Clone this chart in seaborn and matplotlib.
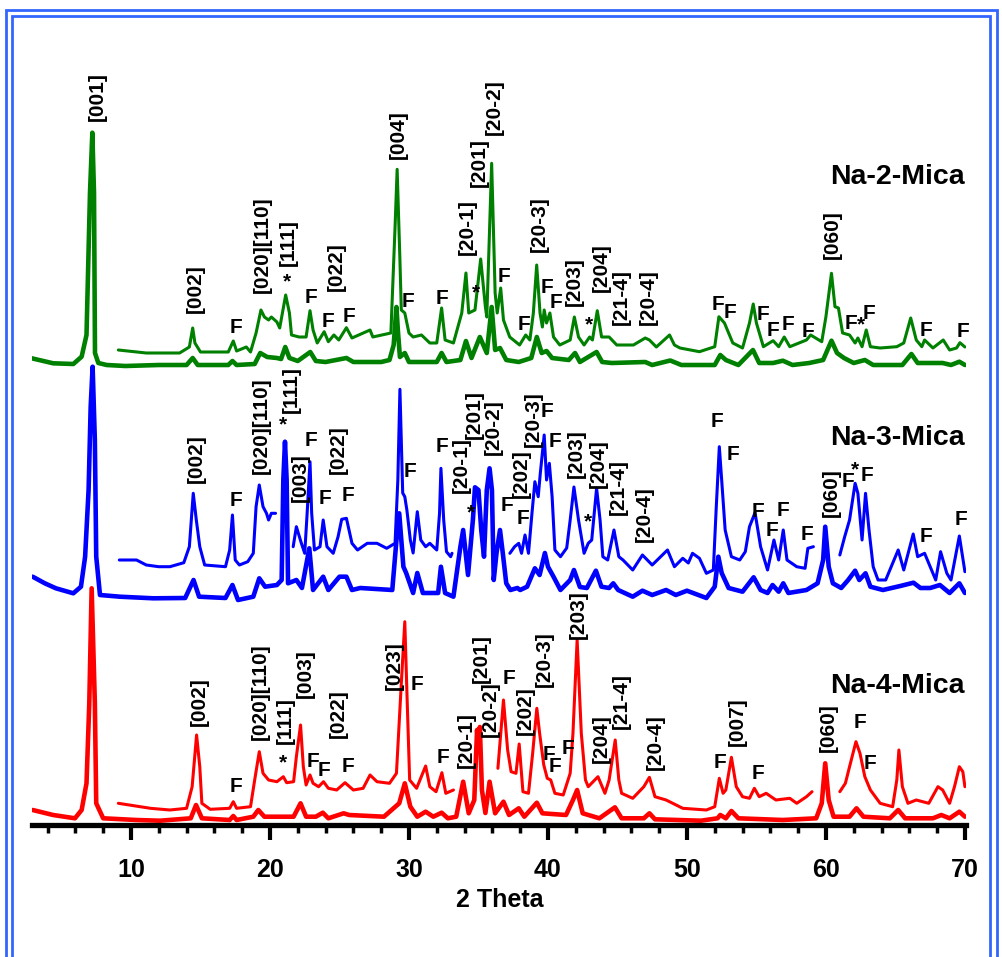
import numpy as np
import pandas as pd
import matplotlib
matplotlib.use("Agg")
import matplotlib.pyplot as plt
import seaborn as sns
from matplotlib.patches import Rectangle
from matplotlib.ticker import MultipleLocator

sns.set_theme(style="white")
plt.rcParams["font.family"] = ["Liberation Sans", "DejaVu Sans"]
plt.rcParams["font.weight"] = "bold"
plt.rcParams["text.color"] = "black"
plt.rcParams["axes.labelcolor"] = "black"
plt.rcParams["xtick.color"] = "black"

# ---------------- data (2 theta, intensity a.u. relative to each trace baseline) ----------------
na2_full_tt = [2.86,4.4,5.85,6.45,6.8,7.05,7.22,7.34,7.41,7.65,8.25,9.6,12.0,14.0,14.44,14.8,17.0,17.3,17.6,18.9,
               19.3,19.8,20.5,20.8,21.1,21.4,22.0,22.9,23.3,24.0,25.5,26.0,28.0,28.6,28.9,29.1,29.2,29.35,29.7,30.0,
               32.0,32.35,32.7,33.7,34.1,34.5,35.1,35.6,35.95,36.2,36.55,37.0,37.9,38.8,39.2,39.55,39.9,40.3,41.5,41.95,
               42.3,43.5,43.9,44.6,47.0,47.5,48.8,49.6,52.0,52.4,52.8,53.7,54.75,55.2,56.2,56.9,57.6,58.8,59.8,60.4,
               60.8,61.3,62.0,62.8,63.4,65.5,66.15,66.6,68.4,69.0,69.6,70.0]
na2_full_I = [6.7,1.7,1.0,8.3,30,172,232.3,172,12,2,0,-1,0,0,7,0,0,4,0,1,
              12,8,7,6,18,7,4,13,4,3,7,3,3,5,20,58,35,8,12,3,
              3,12,3,5,24,7,28,12,58,15,17,5,3,7,28,12,14,7,5,12,
              3,13,3,2,3,0,4.5,0,0,10,5,0,15,2,2,4.3,0,2,5,24.3,
              12,7,2,5,0,0,11,2,2,0,3.3,0]

na2_zoom_tt = [9.09,11.1,13.5,14.2,14.44,14.6,15.0,17.0,17.36,17.6,18.3,18.6,19.0,19.35,19.6,19.9,20.1,20.5,20.7,21.13,
               21.4,21.55,22.1,22.6,22.88,23.1,23.4,23.9,24.2,24.6,24.95,25.5,25.9,27.2,27.4,28.7,29.0,29.15,29.35,29.45,
               29.7,30.0,30.3,30.9,31.5,32.0,32.35,32.6,33.2,33.8,34.1,34.3,34.75,35.16,35.5,35.6,35.95,36.2,36.35,36.6,
               36.8,37.25,37.96,38.4,38.7,38.95,39.19,39.43,39.6,39.73,39.9,40.14,40.4,40.85,41.6,41.9,42.2,42.6,43.0,43.2,
               43.55,43.86,44.4,44.95,46.15,47.0,47.3,47.8,48.75,49.1,49.5,50.9,52.0,52.3,52.7,53.3,54.0,54.5,54.77,55.0,
               55.5,56.2,56.6,57.0,57.4,58.6,58.9,59.7,60.0,60.4,60.65,60.9,61.2,61.7,62.1,62.3,62.6,62.9,63.2,63.9,
               65.1,65.6,66.1,66.5,66.9,67.1,67.7,68.44,68.9,69.4,69.64,70.0]
na2_zoom_I = [2,-1,-1,5,24,9,0,0,11,1,5,0,19,42,35,32,35,30,24,57,
              39,17,15,15,41.3,22,9,20.3,10.3,17,12,24.3,14,22,15,19,125,182.7,92,42,
              39,19,15,17,9,9,44,12,9,39,79,39,42,93,45,35,188.7,59,39,64,
              32,15,7,17,12,39,87,39,25,42,29,39,15,7,12,35,15,7,15,12,
              41.3,15,15,7,7,14,12,5,17,7,4,0.3,5.3,35.3,29,9,4,29,48,29,
              5.3,11.3,5.3,15,5.3,12,17,10.3,35.3,78.7,45.3,44,19,17,9,14,5.3,22,5.3,4,
              5.3,9,34,12,5.3,12,4,12,2,4,9.3,5]

na3_full_tt = [2.93,3.8,4.6,5.85,6.4,6.7,6.95,7.1,7.24,7.4,7.5,7.77,9.2,11.6,13.9,14.5,14.9,16.8,17.3,17.7,
               18.8,19.23,19.65,20.5,20.84,20.96,21.08,21.2,21.3,21.9,22.3,22.83,23.1,23.83,24.2,25.0,25.5,25.9,26.5,28.8,
               29.1,29.3,29.6,29.8,30.3,30.6,31.0,32.1,32.3,32.6,33.2,33.7,33.9,34.25,34.6,34.75,35.0,35.2,35.4,35.6,
               35.8,35.97,36.1,36.3,36.55,36.75,37.0,37.3,37.8,38.0,38.5,39.06,39.4,39.78,40.0,40.4,40.9,41.6,41.87,42.3,
               42.8,43.45,43.85,44.4,44.7,45.05,46.1,46.8,47.5,48.5,49.2,50.0,51.4,52.0,52.26,52.5,53.0,54.0,54.8,55.3,
               55.8,56.16,56.6,56.93,57.3,58.6,59.4,59.8,59.95,60.2,60.5,61.1,61.6,62.1,62.4,62.85,63.2,64.1,65.35,66.3,
               66.8,67.5,68.2,68.9,69.6,70.0]
na3_full_I = [20.3,13.7,8.7,3.7,10.3,40.3,107,190.3,230.3,157,40.3,2,0.3,-1.3,-1,17,0.3,-1,12,-3,
              0.3,18.7,10.3,12,17,117,155.3,117,13.7,17,9,48.7,7,20.3,7,20.3,20.3,7,9,7,
              57,83.7,30.3,24,4,24,4,4,30.3,4,0.3,50.3,67,22,77,109.7,107,67,40.3,107,
              128.7,107,17,44,67,44,13.7,7,9,7,10.3,28.7,22,44,30.3,20.3,7,17,27,10,
              9,26.3,10.3,9,13.7,7,0.3,6.3,2,7,2,6.3,-1,10.3,40.3,24,9,5.3,19.7,7,
              4,12,5.3,13.7,4,7,13.7,37,70.3,30.3,13.7,9,17,26.3,17,23.7,10.3,7,11,14.3,
              9,9,12,4,13.7,4]

# magnified scan; NaN marks a break in the recorded curve
na3_zoom_tt = [9.16,10.4,11.1,12.0,12.8,13.8,14.2,14.48,14.7,14.95,15.3,16.8,17.1,17.3,17.5,17.8,18.4,18.8,19.0,19.23,
               19.5,19.75,19.9,20.1,20.4, np.nan,
               21.67,21.9,22.26,22.5,22.66,22.88,23.0,23.2,23.6,23.83,24.1,24.55,24.9,25.16,25.5,25.9,26.3,27.0,27.7,28.4,
               29.0,29.2,29.35,29.55,29.7,29.85,30.1,30.3,30.6,30.85,31.2,31.5,32.0,32.2,32.3,32.5,32.7,33.0,33.1, np.nan,
               37.26,37.6,37.9,38.1,38.35,38.6,38.85,39.06,39.3,39.45,39.73,39.9,40.1,40.3,40.5,40.9,41.35,41.6,41.87,42.2,
               42.6,42.9,43.15,43.5,43.75,43.95,44.3,44.75,45.1,45.4,46.1,46.8,47.5,48.6,49.1,49.7,50.1,50.4,50.9,51.4,
               51.9,52.1,52.33,52.5,52.75,53.2,53.8,54.2,54.5,54.9,55.3,55.8,56.26,56.6,56.93,57.2,57.9,58.5,58.7,59.1, np.nan,
               61.0,61.35,61.7,62.1,62.3,62.6,62.85,63.1,63.4,63.75,64.3,64.8,65.2,65.6,66.28,66.6,67.1,67.5,67.9,68.25,
               68.7,69.0,69.6,70.0]
na3_zoom_I = [6,6,1,-0.7,-0.7,3.3,19.3,72.7,46,19.3,1,-0.7,16,51,6,1,4.3,12.7,59.3,81,
              59.3,52.7,46,52.7,52.7, np.nan,
              19.3,39.3,22.7,12.7,49.3,104.3,53,16,19.3,46,19.3,12.7,29.3,46.7,47.7,22.7,16,22.7,22.7,17.7,
              22.7,86,176.7,73,69.3,56,26,13,54.3,26,19.3,22.7,16,52.7,97.7,46,14.3,9.3,12.7, np.nan,
              12.7,19.3,22.7,12.7,31,12.7,52.7,84.3,69.3,92.7,131,86,102.7,69.3,16,9.3,18,46,79,46,
              12.7,22.7,26,77.7,46,9.3,6,36,9.3,6,-4,11,1,16,-0.7,7.7,3,12.7,7.7,-7.3,
              -4,56,119.3,86,36,9.3,6,14.3,39.3,53.3,19.3,-4,26,6,36,6,-0.7,-2.3,17.7,19.3, np.nan,
              11,29.3,46,82.7,72.7,26,72.7,36,-0.7,-14,-14,2.7,16,-4,32,9.3,12.7,-0.7,-14,14.3,
              -7.3,-14,30,-5.7]

na4_full_tt = [2.93,4.4,5.97,6.45,6.8,7.0,7.17,7.4,7.5,8.0,10.4,12.1,14.3,14.68,15.1,17.1,17.36,17.6,18.8,19.16,
               19.6,21.7,22.2,22.6,23.3,23.8,24.2,25.3,25.7,28.2,29.3,29.7,30.1,30.6,31.2,31.75,32.35,32.8,33.4,33.9,
               34.3,34.7,34.9,35.0,35.1,35.25,35.5,35.8,36.2,36.8,37.2,37.9,38.3,39.2,39.6,41.3,41.8,42.1,42.5,43.7,
               44.82,45.3,46.9,47.3,47.7,51.0,52.2,52.4,52.8,53.2,53.7,56.9,59.3,59.7,59.95,60.2,60.55,61.7,62.2,62.7,
               64.6,65.2,65.7,67.7,68.3,68.9,69.6,70.0]
na4_full_I = [10,5,1.7,10,36.7,116.7,231.7,117,16.7,1.7,0,-0.7,1.7,15,1.7,0,4,0,3.3,10,
              3.3,3.3,16.7,3.3,3.3,7.3,1.7,6.7,5,3.3,16.7,36.7,13.3,3.3,8.3,3.3,7.3,1.7,3.3,38.3,
              6.7,20,90,70,93,30,7,38.3,6.7,18.3,5,11.7,3.3,17.3,6.7,5,20,30,6.7,1.7,
              12.7,1.7,1.7,6.7,0.7,-0.7,1.7,5,1.7,9,1.7,0,1.7,16.7,56.7,20,3.3,3.3,11.7,3.3,
              1.7,10,1.7,1.7,5,1.7,8.3,3.3]

na4_zoom_tt = [9.09,11.4,12.8,14.0,14.4,14.72,14.95,15.1,15.7,17.1,17.36,17.6,18.6,18.9,19.23,19.5,19.9,20.5,20.96,21.2,
               21.7,21.9,22.2,22.4,22.6,22.88,23.1,23.5,23.85,24.2,24.8,25.4,26.0,26.7,27.2,27.7,28.6,29.1,29.45,29.7,
               29.87,30.05,30.55,31.2,31.5,31.95,32.37,32.65,33.2, np.nan,
               36.4,36.8,37.1,37.35,37.7,37.93,38.2,38.6,38.9,39.2,39.4,39.7,39.95,40.2,40.5,41.1,41.6,41.8,42.1,42.4,
               42.7,42.9,43.6,44.1,44.4,44.84,45.1,45.3,46.1,46.9,47.3,47.7,48.5,49.7,51.4,52.0,52.33,52.6,52.8,53.2,
               53.55,54.0,54.5,54.85,55.2,55.7,56.4,57.4,57.9,58.6,59.0, np.nan,
               61.0,61.4,61.7,62.16,62.45,62.8,63.2,63.9,64.8,65.1,65.25,65.5,65.9,66.5,67.4,68.06,68.4,68.9,69.25,69.6,
               69.85,70.0]
na4_zoom_I = [4.7,-0.3,-2,-0.3,21.3,73,41.3,4.7,-1.3,-0.3,6.3,-0.3,1.3,28,56.3,34.7,28,26.3,31.3,25.3,
              26.3,51.3,83,41.3,23,33,24.7,21.3,26.3,19.7,18,25.3,18,19.7,33,26.3,24.7,34.7,124.7,186.3,
              108,28,19.7,42,21.3,16.3,35.3,14.7,18, np.nan,
              39.7,108,58,36.3,34.7,64,16.3,14.7,54.7,99.7,74.7,43,29.7,28,14.7,13,34.7,74.7,168,74.7,
              28,21.3,31.3,14.7,28,68,28,14.7,9.7,21.3,30.7,11.3,8,-0.3,-2,1.3,29.7,14.7,18,50.7,
              21.3,11.3,9.7,19.7,11.3,14.7,8,9.7,4.7,11.3,16.3, np.nan,
              16.3,24.7,41.3,66.3,54.7,31.3,18,4.7,1.3,28,58,21.3,4.7,8,4.7,21.3,18,4.7,21.3,41.3,
              36.3,21.3]

samples = ["Na-2-Mica", "Na-3-Mica", "Na-4-Mica"]

# peak assignments: (text, 2theta, stacked intensity)
na2_labels = [("[001]",7.58,728.3),("[002]",14.60,536),("F",17.53,497.3),("[020][110]",19.47,580.7),
              ("[111]",21.32,582.3),("*",21.20,543.3),("F",22.93,527.7),("F",24.19,503.3),("[022]",24.80,558.3),
              ("F",25.71,508.3),("[004]",29.23,690.3),("F",29.95,523.3),("F",32.35,526.7),("[20-1]",34.19,598.3),
              ("*",34.80,531.7),("[201]",35.06,662.7),("[20-2]",36.12,717.7),("F",36.83,548.3),("F",38.27,500),
              ("[20-3]",39.37,601.3),("F",39.91,537.3),("F",40.58,522.3),("[203]",41.89,543.3),("*",42.95,500),
              ("[204]",43.81,557),("[21-4]",45.25,527.7),("[20-4]",47.22,527.7),("[060]",60.48,590.3),
              ("F",52.25,521),("F",53.09,512.3),("F",55.49,510),("F",56.21,495),("F",57.24,500),("F",58.68,493.3),
              ("F",61.78,501.7),("*",62.50,500),("F",63.12,511.7),("F",67.19,495),("F",69.88,493.3)]
na3_labels = [("[002]",14.73,366),("F",17.53,325),("[020][110]",19.40,399),("[111]",21.56,435),("*",20.96,400),
              ("[003]",22.16,347.7),("F",22.95,385),("F",23.96,326.7),("[022]",24.91,375),("F",25.63,330),
              ("F",30.07,353.3),("F",32.35,378.3),("[20-1]",33.79,360),("*",34.44,312.3),("[201]",34.68,410),
              ("[20-2]",36.06,397.7),("F",37.07,320),("[202]",38.11,351.7),("F",38.22,306.7),("[20-3]",38.94,406),
              ("F",39.91,413.3),("F",40.50,383.3),("[203]",42.01,371.7),("*",42.90,303.3),("[204]",43.62,361),
              ("[21-4]",45.06,338.3),("[20-4]",46.93,311),("F",52.14,403.3),("F",53.29,371),("F",55.13,313.3),
              ("F",56.09,295),("F",56.93,315),("F",58.61,291),("[060]",60.40,332.7),("F",61.56,343.3),
              ("*",62.09,355),("F",62.93,349.3),("F",67.19,288.3),("F",69.69,305.7)]
na4_labels = [("[002]",14.91,123.7),("F",17.53,38.3),("[020][110]",19.28,133.3),("[111]",21.13,104.3),
              ("*",20.96,61.7),("[003]",22.52,151),("F",23.12,63.3),("F",23.88,54.3),("[022]",24.91,111),
              ("F",25.59,59),("[023]",28.94,159.3),("F",30.55,141),("F",32.47,67.7),("[20-1]",34.10,85),
              ("[201]",35.23,166),("[20-2]",35.83,116),("F",37.22,146.7),("[202]",38.35,114.3),("[20-3]",39.73,165.7),
              ("F",40.07,71),("F",40.50,58.3),("F",41.46,76.7),("[203]",42.18,210),("[204]",43.86,86),
              ("[21-4]",45.30,124.3),("[20-4]",47.70,82.7),("F",52.37,62.7),("[007]",53.65,103.7),("F",55.13,51.7),
              ("[060]",60.17,97),("F",62.45,102.3),("F",63.17,61.7)]
name_pos = [(65.13, 647.7), (65.13, 386.7), (65.13, 139.3)]

# ---------------- styling / layout ----------------
colors = ["#008000", "#0000FF", "#FF0000"]
offsets_full = [460, 228, 5]
offsets_zoom = [473, 259, 17]

def trace_df(tt, I, off):
    df = pd.DataFrame({"two_theta": tt, "I": I})
    df["seg"] = df["I"].isna().cumsum()
    df = df.dropna()
    df["signal"] = df["I"] + off
    return df

fig = plt.figure(figsize=(10.03, 9.57), dpi=100)
ax = fig.add_axes([32.3 / 1003, 132 / 957, 934 / 1003, 800 / 957])
ax.set_facecolor("none")

full = [(na2_full_tt, na2_full_I), (na3_full_tt, na3_full_I), (na4_full_tt, na4_full_I)]
zoom = [(na2_zoom_tt, na2_zoom_I), (na3_zoom_tt, na3_zoom_I), (na4_zoom_tt, na4_zoom_I)]

for k in range(3):
    d1 = trace_df(*full[k], offsets_full[k])
    sns.lineplot(data=d1, x="two_theta", y="signal", units="seg", estimator=None, sort=False,
                 color=colors[k], lw=3.3, ax=ax, legend=False)
    d2 = trace_df(*zoom[k], offsets_zoom[k])
    sns.lineplot(data=d2, x="two_theta", y="signal", units="seg", estimator=None, sort=False,
                 color=colors[k], lw=2.2, ax=ax, legend=False)

for labels in (na2_labels, na3_labels, na4_labels):
    for txt, x, y in labels:
        rot = 90 if txt.startswith("[") else 0
        ax.text(x, y, txt, rotation=rot, ha="center", va="center", fontsize=15,
                fontweight="bold", color="black", zorder=5)

for name, (x, y) in zip(samples, name_pos):
    ax.text(x, y, name, ha="center", va="center", fontsize=20.5, fontweight="bold", color="black")

ax.set_xlim(2.9, 70.1)
ax.set_ylim(0, 800)
ax.set_yticks([])
ax.set_ylabel("")
ax.xaxis.set_major_locator(MultipleLocator(10))
ax.xaxis.set_minor_locator(MultipleLocator(2))
for s in ["left", "right", "top"]:
    ax.spines[s].set_visible(False)
ax.spines["bottom"].set_linewidth(3.8)
ax.spines["bottom"].set_color("black")
ax.tick_params(axis="x", which="major", direction="out", length=10.8, width=3, color="black",
               labelsize=18, labelcolor="black", pad=13, bottom=True)
ax.tick_params(axis="x", which="minor", direction="out", length=6, width=2.5, color="black", bottom=True)
for lab in ax.get_xticklabels():
    lab.set_fontweight("bold")
ax.set_xlabel("2 Theta", fontsize=18, fontweight="bold", color="black", labelpad=4)

# double blue frame
W, H = 1003, 957
for (x0, y0, x1) in [(6, 10.5, 997), (12.5, 16, 990.5)]:
    fig.add_artist(Rectangle((x0 / W, -0.05), (x1 - x0) / W, 1.05 - y0 / H,
                             transform=fig.transFigure, fill=False, ec="#3366FF", lw=2.0, clip_on=False))

fig.savefig("out.png", dpi=100)
